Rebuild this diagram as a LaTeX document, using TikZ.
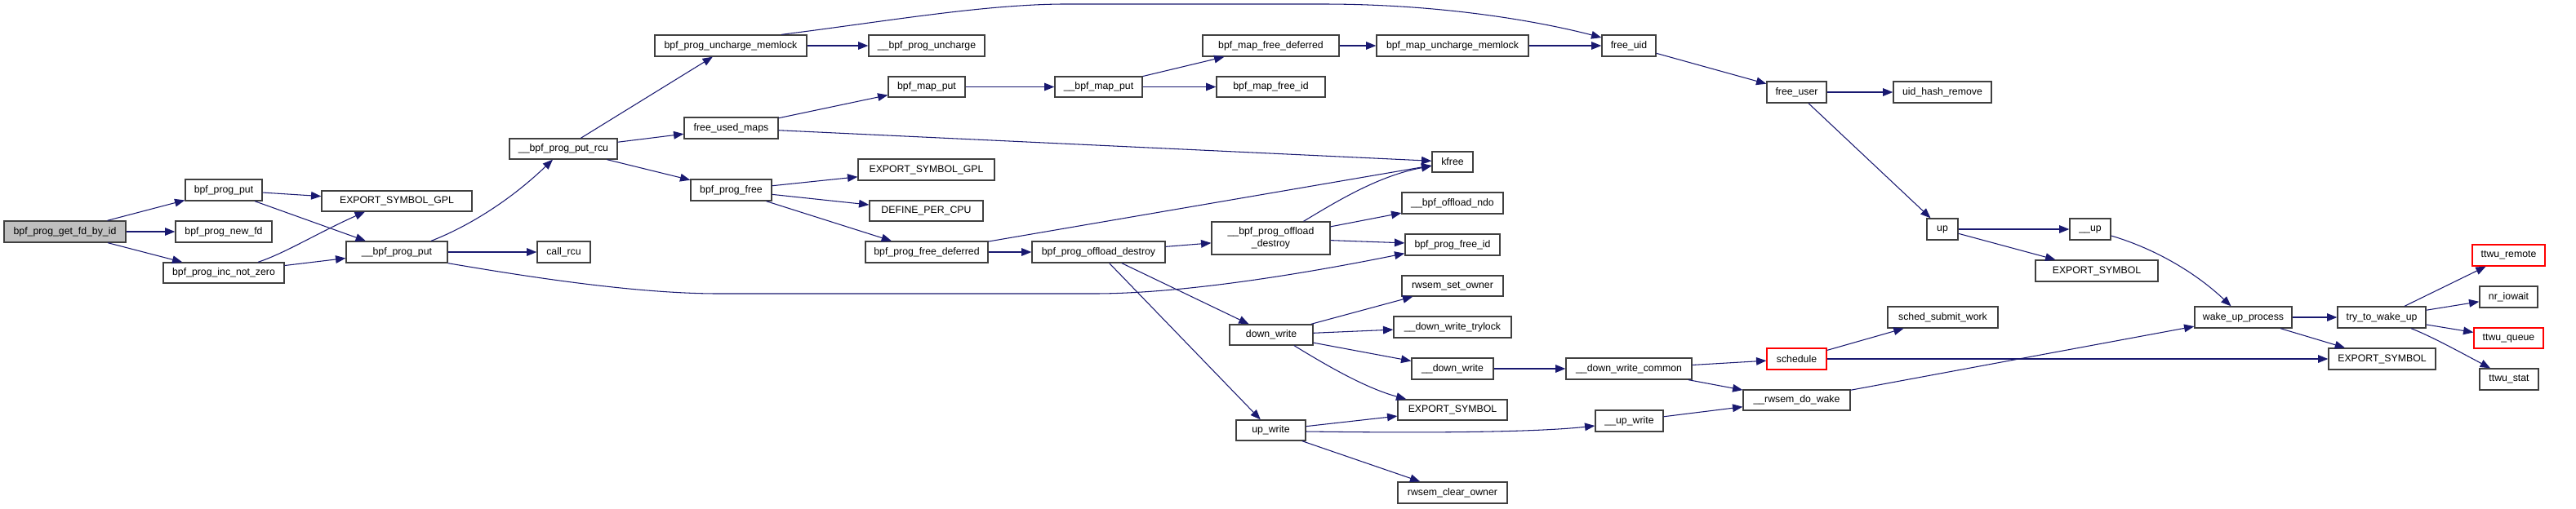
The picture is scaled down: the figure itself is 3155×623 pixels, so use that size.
\documentclass[tikz,border=0pt]{standalone}
\usepackage{fontspec}
\setmainfont{Liberation Sans}
\usetikzlibrary{arrows.meta,calc}
\definecolor{edgec}{HTML}{191970}
\definecolor{bord}{HTML}{404040}
\definecolor{rootfill}{HTML}{BFBFBF}
\tikzset{
 box/.style={draw=bord, line width=0.75pt, fill=white, inner sep=0pt, font=\fontsize{7}{8.2}\selectfont, text=black, align=center},
 rootbox/.style={fill=rootfill},
 truncbox/.style={draw=red},
 e/.style={draw=edgec, line width=0.6pt, -{Triangle[length=7pt,width=5.5pt]}},
}
\newcommand{\nd}[7][]{\node[box,#1,minimum width={0.02cm*(#5-#3)},minimum height={0.02cm*(#6-#4)}] (#2) at ({(#3+#5)/2},{(#4+#6)/2}) {#7};}
\begin{document}
\begin{tikzpicture}[x=0.02cm,y=-0.02cm]
\useasboundingbox (0,0) rectangle (3155,623);
\nd[rootbox]{root}{5}{271}{154}{297}{bpf\_prog\_get\_fd\_by\_id}
\nd{ppu}{227}{220}{321}{246}{bpf\_prog\_put}
\nd{pnf}{215}{271}{333}{297}{bpf\_prog\_new\_fd}
\nd{inz}{200}{322}{348}{347}{bpf\_prog\_inc\_not\_zero}
\nd{esg1}{394}{234}{578}{259}{EXPORT\_SYMBOL\_GPL}
\nd{bpp}{424}{296}{548}{322}{\_\_bpf\_prog\_put}
\nd{rcu}{624}{170}{756}{195}{\_\_bpf\_prog\_put\_rcu}
\nd{crcu}{658}{296}{723}{322}{call\_rcu}
\nd{pum}{802}{43}{988}{69}{bpf\_prog\_uncharge\_memlock}
\nd{fum}{838}{144}{953}{170}{free\_used\_maps}
\nd{pfree}{846}{220}{945}{246}{bpf\_prog\_free}
\nd{pun}{1064}{43}{1206}{69}{\_\_bpf\_prog\_uncharge}
\nd{mput}{1088}{94}{1182}{119}{bpf\_map\_put}
\nd{umput}{1292}{94}{1399}{119}{\_\_bpf\_map\_put}
\nd{mfd}{1473}{43}{1640}{69}{bpf\_map\_free\_deferred}
\nd{mfid}{1490}{94}{1623}{119}{bpf\_map\_free\_id}
\nd{esg2}{1051}{195}{1218}{221}{EXPORT\_SYMBOL\_GPL}
\nd{dpc}{1065}{246}{1204}{271}{DEFINE\_PER\_CPU}
\nd{pfd}{1060}{296}{1210}{322}{bpf\_prog\_free\_deferred}
\nd{pod}{1264}{296}{1427}{322}{bpf\_prog\_offload\_destroy}
\nd{upod}{1484}{272}{1629}{312}{\_\_bpf\_prog\_offload\\\_destroy}
\nd{dw}{1506}{398}{1608}{423}{down\_write}
\nd{uw}{1514}{515}{1599}{540}{up\_write}
\nd{mum}{1686}{43}{1872}{69}{bpf\_map\_uncharge\_memlock}
\nd{fuid}{1962}{43}{2028}{69}{free\_uid}
\nd{kfree}{1754}{186}{1804}{211}{kfree}
\nd{ondo}{1717}{236}{1841}{262}{\_\_bpf\_offload\_ndo}
\nd{pfid}{1721}{287}{1837}{313}{bpf\_prog\_free\_id}
\nd{rso}{1717}{338}{1841}{363}{rwsem\_set\_owner}
\nd{dwt}{1707}{388}{1851}{414}{\_\_down\_write\_trylock}
\nd{udw}{1729}{439}{1829}{465}{\_\_down\_write}
\nd{es1}{1712}{490}{1846}{515}{EXPORT\_SYMBOL}
\nd{uuw}{1954}{503}{2037}{529}{\_\_up\_write}
\nd{rco}{1712}{591}{1846}{617}{rwsem\_clear\_owner}
\nd{dwc}{1918}{439}{2072}{465}{\_\_down\_write\_common}
\nd{fusr}{2164}{100}{2237}{126}{free\_user}
\nd{uhr}{2319}{100}{2439}{126}{uid\_hash\_remove}
\nd{upn}{2360}{268}{2398}{294}{up}
\nd{uup}{2535}{268}{2585}{294}{\_\_up}
\nd{es2}{2493}{319}{2643}{345}{EXPORT\_SYMBOL}
\nd{ssw}{2312}{376}{2447}{402}{sched\_submit\_work}
\nd[truncbox]{sch}{2164}{427}{2237}{453}{schedule}
\nd{rdw}{2135}{478}{2266}{503}{\_\_rwsem\_do\_wake}
\nd[truncbox]{ttwr}{3028}{300}{3117}{326}{ttwu\_remote}
\nd{nio}{3037}{351}{3108}{377}{nr\_iowait}
\nd{wup}{2688}{376}{2807}{402}{wake\_up\_process}
\nd{ttwu}{2863}{376}{2971}{402}{try\_to\_wake\_up}
\nd[truncbox]{ttwq}{3030}{402}{3115}{427}{ttwu\_queue}
\nd{es3}{2852}{427}{2983}{453}{EXPORT\_SYMBOL}
\nd{tst}{3037}{452}{3109}{478}{ttwu\_stat}

\draw[e] (root) -- (ppu);
\draw[e] (root) -- (pnf);
\draw[e] (root) -- (inz);
\draw[e] (ppu) -- (esg1);
\draw[e] (ppu) -- (bpp);
\draw[e] ($(inz.north)+(42,0)$) .. controls (350,310) and (390,285) .. ($(esg1.south)+(-39,0)$);
\draw[e] (inz) -- (bpp);
\draw[e] ($(bpp.north)+(42,0)$) .. controls (560,283) and (615,255) .. ($(rcu.south)+(-13,0)$);
\draw[e] (bpp) -- (crcu);
\draw[e] (bpp.south east) .. controls (650,340) and (780,360) .. (880,360) -- (1340,360) .. controls (1450,360) and (1600,335) .. ($(pfid.south west)+(0,-3)$);
\draw[e] (rcu) -- (pum);
\draw[e] (rcu) -- (fum);
\draw[e] (rcu) -- (pfree);
\draw[e] (pum) -- (pun);
\draw[e] ($(pum.north)+(62,0)$) .. controls (1080,27) and (1200,6) .. (1300,5) -- (1620,5) .. controls (1780,5) and (1900,30) .. ($(fuid.west)+(0,-10)$);
\draw[e] (fum) -- (mput);
\draw[e] (fum) -- (kfree);
\draw[e] (pfree) -- (esg2);
\draw[e] (pfree) -- (dpc);
\draw[e] (pfree) -- (pfd);
\draw[e] (mput) -- (umput);
\draw[e] (umput) -- (mfd);
\draw[e] (umput) -- (mfid);
\draw[e] (mfd) -- (mum);
\draw[e] (mum) -- (fuid);
\draw[e] (fuid) -- (fusr);
\draw[e] (fusr) -- (uhr);
\draw[e] (fusr) -- (upn);
\draw[e] (upn) -- (uup);
\draw[e] (upn) -- (es2);
\draw[e] ($(uup.east)+(0,8)$) .. controls (2640,305) and (2690,335) .. ($(wup.north)+(-15,0)$);
\draw[e] (pfd) -- (kfree);
\draw[e] (pfd) -- (pod);
\draw[e] (pod) -- (upod);
\draw[e] (pod) -- (dw);
\draw[e] (pod) -- (uw);
\draw[e] ($(upod.north)+(40,0)$) .. controls (1640,245) and (1690,215) .. ($(kfree.west)+(0,5)$);
\draw[e] (upod) -- (ondo);
\draw[e] (upod) -- (pfid);
\draw[e] (dw) -- (rso);
\draw[e] (dw) -- (dwt);
\draw[e] (dw) -- (udw);
\draw[e] ($(dw.south)+(28,0)$) .. controls (1620,445) and (1670,475) .. ($(es1.north west)+(11,0)$);
\draw[e] (uw) -- (es1);
\draw[e] ($(uw.east)+(0,1.5)$) .. controls (1750,531) and (1880,530) .. ($(uuw.west)+(0,6)$);
\draw[e] (uw) -- (rco);
\draw[e] (udw) -- (dwc);
\draw[e] (dwc) -- (sch);
\draw[e] (dwc) -- (rdw);
\draw[e] (uuw) -- (rdw);
\draw[e] (sch) -- (ssw);
\draw[e] (sch) -- (es3);
\draw[e] (rdw) -- (wup);
\draw[e] (wup) -- (ttwu);
\draw[e] (wup) -- (es3);
\draw[e] (ttwu) -- (ttwr);
\draw[e] (ttwu) -- (nio);
\draw[e] (ttwu) -- (ttwq);
\draw[e] ($(ttwu.south)+(36,0)$) .. controls (2975,411) and (3010,430) .. ($(tst.north)+(-23,0)$);
\end{tikzpicture}
\end{document}
